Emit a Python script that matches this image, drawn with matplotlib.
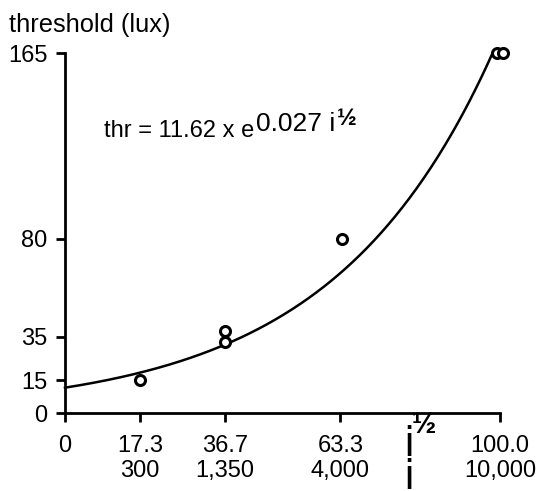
import numpy as np
import matplotlib
matplotlib.use("Agg")
import matplotlib.pyplot as plt

plt.rcParams['font.family'] = ['Liberation Sans', 'DejaVu Sans']

# data
x_obs = [17.3, 36.7, 36.7, 63.6, 99.3, 100.7]
y_obs = [15, 32.5, 37.5, 80, 165, 165]
fit_a = 11.62
fit_k = 0.027
x_ticks = [0, 17.3, 36.7, 63.3, 100.0]
x_tick_labels = ["0", "17.3\n300", "36.7\n1,350", "63.3\n4,000", "100.0\n10,000"]
y_ticks = [0, 15, 35, 80, 165]
y_tick_labels = ["0", "15", "35", "80", "165"]

fig = plt.figure(figsize=(5.41, 4.91), dpi=100)
ax = fig.add_axes([65/541, 78/491, (500-65)/541, (413-53.3)/491])
ax.set_xlim(0, 100)
ax.set_ylim(0, 165)

x_end = np.log(165 / fit_a) / fit_k
xc = np.linspace(0, x_end, 300)
ax.plot(xc, fit_a * np.exp(fit_k * xc), color='black', lw=1.8, clip_on=False, zorder=2)
ax.plot(x_obs, y_obs, 'o', mfc='white', mec='black', ms=7.2, mew=2.2, clip_on=False, zorder=3)

for s in ['top', 'right']:
    ax.spines[s].set_visible(False)
for s in ['left', 'bottom']:
    ax.spines[s].set_linewidth(2)

ax.set_xticks(x_ticks)
ax.set_xticklabels(x_tick_labels, fontsize=17, linespacing=1.2, va='top')
ax.set_yticks(y_ticks)
ax.set_yticklabels(y_tick_labels, fontsize=17)
ax.tick_params(axis='both', direction='out', length=6.5, width=2, color='black')
ax.tick_params(axis='x', pad=9)
ax.tick_params(axis='y', pad=6)

fig.text(9/541, 1 - 32/491, "threshold (lux)", fontsize=18.3, ha='left', va='baseline')

# equation
t1 = ax.text(9.05, 126.5, "thr = 11.62 x e", fontsize=17, ha='left', va='baseline')
t2 = ax.annotate("0.027 i", xy=(1, 0), xycoords=t1, xytext=(1, 8), textcoords='offset points',
                 fontsize=19, ha='left', va='baseline')
ax.annotate("½", xy=(1, 0), xycoords=t2, xytext=(1, 8), textcoords='offset points',
            fontsize=17, ha='left', va='baseline', fontweight='bold')

# axis variable labels
fig.text(404/541, 1 - 456/491, "i", fontsize=30, ha='left', va='baseline')
fig.text(412/541, 1 - 433/491, "½", fontsize=21, ha='left', va='baseline', fontweight='bold')
fig.text(404/541, 1 - 489/491, "i", fontsize=30, ha='left', va='baseline')

fig.savefig("out.png", dpi=100)
